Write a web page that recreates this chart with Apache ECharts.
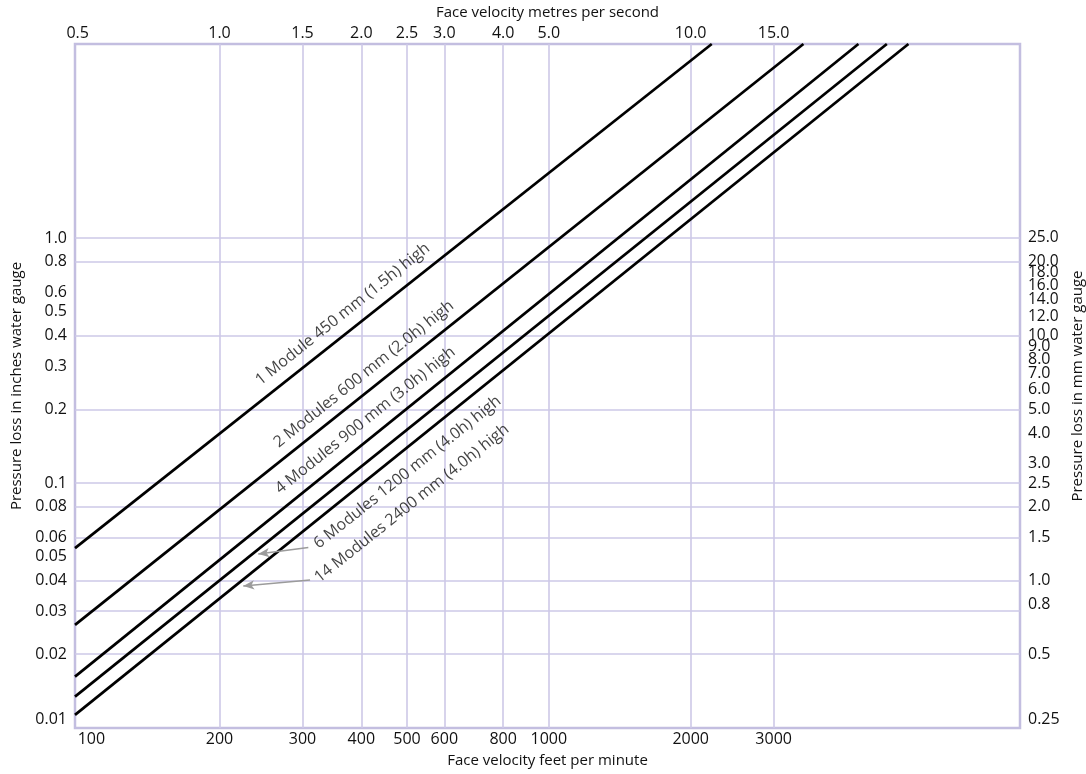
<!DOCTYPE html>
<html><head><meta charset="utf-8">
<script src="https://cdn.jsdelivr.net/npm/echarts@6/dist/echarts.min.js"></script>
<style>html,body{margin:0;padding:0;background:#fff;}#c{width:1086px;height:774px;}</style>
</head><body><div id="c"></div>
<script>
// Axis ranges
const fpmRange = [98.7, 10000];
const msRange = [0.4935, 50];
const inchRange = [0.00999, 6.2];
const mmRange = [0.2497, 155];

// Tick labels and grid lines
const fpmLabels = [100, 200, 300, 400, 500, 600, 800, 1000, 2000, 3000];
const fpmGrid = [200, 300, 400, 500, 600, 800, 1000, 2000, 3000];
const msLabels = [0.5, 1.0, 1.5, 2.0, 2.5, 3.0, 4.0, 5.0, 10.0, 15.0];
const inchLabels = [0.01, 0.02, 0.03, 0.04, 0.05, 0.06, 0.08, 0.1, 0.2, 0.3, 0.4, 0.5, 0.6, 0.8, 1.0];
const inchGrid = [0.02, 0.03, 0.04, 0.06, 0.08, 0.1, 0.2, 0.4, 0.8, 1.0];
const mmLabels = [0.25, 0.5, 0.8, 1.0, 1.5, 2.0, 2.5, 3.0, 4.0, 5.0, 6.0, 7.0, 8.0, 9.0, 10.0, 12.0, 14.0, 16.0, 18.0, 20.0, 25.0];

// Series: [feet per minute, inches water gauge] at the left edge and where each line leaves the top
const seriesNames = [
  '1 Module 450 mm (1.5h) high',
  '2 Modules 600 mm (2.0h) high',
  '4 Modules 900 mm (3.0h) high',
  '6 Modules 1200 mm (4.0h) high',
  '14 Modules 2400 mm (4.0h) high'
];
const line1 = [[98.7, 0.0542], [2217, 6.2]];
const line2 = [[98.7, 0.02633], [3470, 6.2]];
const line3 = [[98.7, 0.0162], [4540, 6.2]];
const line4 = [[98.7, 0.01342], [5216, 6.2]];
const line5 = [[98.7, 0.0113], [5797, 6.2]];
const lines = [line1, line2, line3, line4, line5];

// Where each line's caption starts (data coordinates)
const labelAnchors = [[247.5, 0.2421], [270.5, 0.1348], [272.5, 0.0873], [329.0, 0.05216], [330.1, 0.0379]];
// Pointer arrows [tail, head] (data coordinates)
const arrow6 = [[308.7, 0.05447], [241.7, 0.05133]];
const arrow14 = [[311.3, 0.04021], [224.6, 0.038]];

const TXT = '#111';
const GRID = '#cdc8e7';
const BORDER = '#c3bee0';
const FONT = 'Open Sans';
const NARROW = '"Liberation Sans Narrow", "Open Sans"';

const chart = echarts.init(document.getElementById('c'), null, {renderer: 'canvas'});

function arrowMark(a) {
  return {
    silent: true,
    symbol: ['arrow', 'none'],
    symbolSize: [7, 11],
    lineStyle: {color: '#9b9b9b', width: 1.5, type: 'solid'},
    label: {show: false},
    data: [[{coord: a[1]}, {coord: a[0]}]]
  };
}

const series = lines.map((d, i) => {
  const s = {
    type: 'line',
    name: seriesNames[i],
    xAxisIndex: 0, yAxisIndex: 0,
    data: d,
    symbol: 'none', showSymbol: false,
    silent: true,
    lineStyle: {color: '#000', width: 2.7},
    z: 3
  };
  if (i === 3) s.markLine = arrowMark(arrow6);
  if (i === 4) s.markLine = arrowMark(arrow14);
  return s;
});

series.push({
  type: 'scatter',
  xAxisIndex: 0, yAxisIndex: 0,
  silent: true,
  symbolSize: 1,
  itemStyle: {color: 'rgba(0,0,0,0)'},
  data: labelAnchors.map((p, i) => ({value: p, name: seriesNames[i]})),
  label: {
    show: true,
    formatter: '{b}',
    position: [0, 0],
    align: 'left',
    verticalAlign: 'bottom',
    rotate: 38.6,
    fontSize: 16,
    fontFamily: FONT,
    color: TXT
  },
  z: 4
});

chart.setOption({
  animation: false,
  backgroundColor: '#fff',
  textStyle: {fontFamily: FONT, color: TXT},
  grid: {
    left: 75, right: 66, top: 44, bottom: 46,
    show: true, borderColor: BORDER, borderWidth: 2.5,
    backgroundColor: 'transparent',
    containLabel: false, outerBoundsMode: 'none'
  },
  xAxis: [
    {
      type: 'log', logBase: 10, position: 'bottom',
      min: fpmRange[0], max: fpmRange[1],
      name: 'Face velocity feet per minute', nameLocation: 'middle', nameGap: 25,
      nameTextStyle: {fontSize: 15, color: TXT, fontFamily: FONT},
      axisLine: {show: false},
      axisTick: {show: false, customValues: fpmGrid},
      axisLabel: {customValues: fpmLabels, fontSize: 16, color: TXT, margin: 3,
        alignMinLabel: 'left', formatter: v => String(Math.round(v))},
      splitLine: {show: true, lineStyle: {color: GRID, width: 1.6}}
    },
    {
      type: 'log', logBase: 10, position: 'top',
      min: msRange[0], max: msRange[1],
      name: 'Face velocity metres per second', nameLocation: 'middle', nameGap: 22,
      nameTextStyle: {fontSize: 15, color: TXT, fontFamily: FONT},
      axisLine: {show: false},
      axisTick: {show: false},
      axisLabel: {customValues: msLabels, fontSize: 16, color: TXT, margin: 3,
        formatter: v => v.toFixed(1)},
      splitLine: {show: false}
    }
  ],
  yAxis: [
    {
      type: 'log', logBase: 10, position: 'left',
      min: inchRange[0], max: inchRange[1],
      name: 'Pressure loss in inches water gauge', nameLocation: 'middle', nameGap: 48,
      nameTextStyle: {fontSize: 15, color: TXT, fontFamily: FONT},
      axisLine: {show: false},
      axisTick: {show: false, customValues: inchGrid},
      axisLabel: {customValues: inchLabels, fontSize: 16, color: TXT, margin: 8,
        verticalAlignMinLabel: 'bottom',
        formatter: v => v >= 1 ? v.toFixed(1) : String(v)},
      splitLine: {show: true, lineStyle: {color: GRID, width: 1.6}}
    },
    {
      type: 'log', logBase: 10, position: 'right',
      min: mmRange[0], max: mmRange[1],
      name: 'Pressure loss in mm water gauge', nameLocation: 'middle', nameGap: 45,
      nameTextStyle: {fontSize: 15, color: TXT, fontFamily: FONT},
      axisLine: {show: false},
      axisTick: {show: false},
      axisLabel: {customValues: mmLabels, fontSize: 16, color: TXT, margin: 8,
        verticalAlignMinLabel: 'bottom',
        formatter: v => v >= 10 ? '{s|' + v.toFixed(1) + '}' : (v < 0.3 ? '0.25' : v.toFixed(1)),
        rich: {s: {fontSize: 15.5, lineHeight: 13, color: TXT, fontFamily: NARROW}}},
      splitLine: {show: false}
    }
  ],
  series: series
});
</script>
</body></html>
